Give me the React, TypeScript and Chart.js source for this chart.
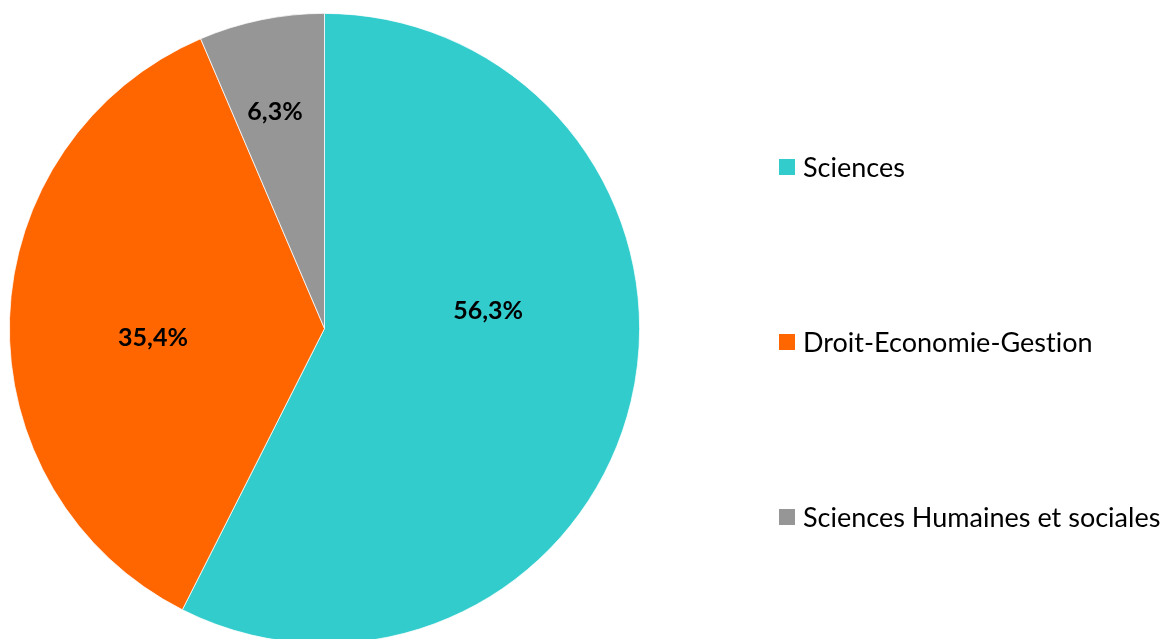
import React, { useEffect, useRef } from "react";
import { Chart, registerables } from "chart.js";

Chart.register(...registerables);

const categories = ["Sciences", "Droit-Economie-Gestion", "Sciences Humaines et sociales"];
const shares = [56.3, 35.4, 6.3];
const valueLabels = ["56,3%", "35,4%", "6,3%"];
const colors = ["#33CCCC", "#FF6600", "#969696"];

// label placement (fraction of radius, angle shift in degrees from slice middle)
const labelRadius = [0.522, 0.545, 0.705];
const labelShift = [-19.4, -5.1, -1.3];

const W = 1163;
const H = 660;

const FONT = "Lato, 'Open Sans', sans-serif";

const overlayPlugin = {
  id: "overlay",
  afterDatasetsDraw(chart: any) {
    const ctx = chart.ctx;
    const meta = chart.getDatasetMeta(0);
    ctx.save();
    ctx.fillStyle = "#000";
    ctx.font = `bold 25px ${FONT}`;
    ctx.textAlign = "center";
    ctx.textBaseline = "middle";
    meta.data.forEach((arc: any, i: number) => {
      const p = arc.getProps(["x", "y", "startAngle", "endAngle", "outerRadius"], true);
      const mid = (p.startAngle + p.endAngle) / 2 + (labelShift[i] * Math.PI) / 180;
      const r = p.outerRadius * labelRadius[i];
      ctx.fillText(valueLabels[i], p.x + Math.cos(mid) * r, p.y + Math.sin(mid) * r);
    });
    // legend
    const lx = 779;
    const ly0 = 167;
    const gap = 175;
    const box = 16;
    ctx.textAlign = "left";
    ctx.font = `27px ${FONT}`;
    try {
      (ctx as any).letterSpacing = "0.01px";
    } catch (e) {}
    categories.forEach((c, i) => {
      const y = ly0 + gap * i;
      ctx.fillStyle = colors[i];
      ctx.fillRect(lx, y - box / 2, box, box);
      ctx.fillStyle = "#000";
      ctx.fillText(c, lx + 24, y + 1);
    });
    ctx.restore();
  },
};

export default function App() {
  const ref = useRef<HTMLCanvasElement>(null);
  useEffect(() => {
    if (!ref.current) return;
    const chart = new Chart(ref.current, {
      type: "pie",
      data: {
        labels: categories,
        datasets: [
          {
            data: shares,
            backgroundColor: colors,
            borderColor: "#ffffff",
            borderWidth: 0.75,
          },
        ],
      },
      options: {
        responsive: false,
        animation: false,
        devicePixelRatio: 1,
        layout: { padding: { left: 9, top: 13, right: W - 640, bottom: H - 644 } },
        plugins: {
          legend: { display: false },
          tooltip: { enabled: false },
        },
      },
      plugins: [overlayPlugin],
    });
    return () => chart.destroy();
  }, []);
  return (
    <div
      style={{
        position: "fixed",
        left: 0,
        top: 0,
        width: W,
        height: 639,
        overflow: "hidden",
        background: "#fff",
      }}
    >
      <canvas ref={ref} width={W} height={H} style={{ display: "block" }} />
    </div>
  );
}
